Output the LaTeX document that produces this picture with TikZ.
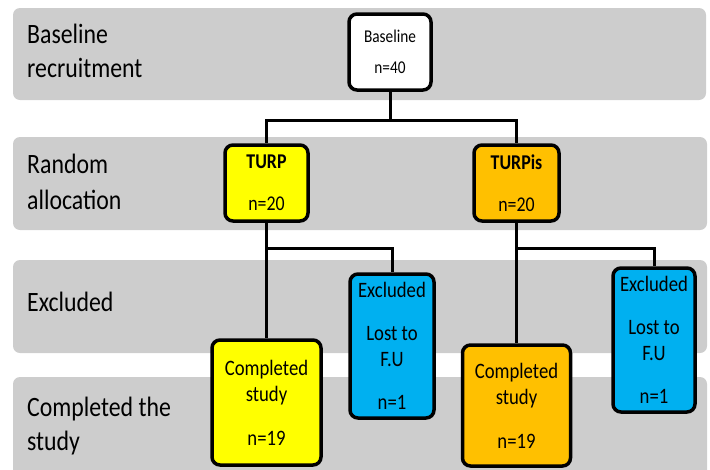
\documentclass[tikz,border=0pt]{standalone}
\usepackage{fontspec}
\setmainfont{Carlito}
\newfontfamily\labfont{Carlito}[FakeStretch=0.85]
\definecolor{bandgray}{RGB}{205,205,205}
\definecolor{yel}{RGB}{255,255,0}
\definecolor{org}{RGB}{255,192,0}
\definecolor{blu}{RGB}{0,176,240}
\begin{document}
\begin{tikzpicture}[x=1pt,y=-1pt,
  bandbox/.style={fill=bandgray, rounded corners=7pt},
  lab/.style={anchor=base west, inner sep=0pt, font=\labfont\fontsize{28}{34}\selectfont},
  box/.style={draw=black, line width=3.5pt, rounded corners=8pt, inner sep=0pt, align=center},
  smalltxt/.style={font=\labfont\fontsize{22}{26}\selectfont},
  conn/.style={line width=3pt},
]
\useasboundingbox (0,0) rectangle (710,469);
% bands
\fill[bandbox] (13,8) rectangle (706,100);
\fill[bandbox] (13,137) rectangle (707,230);
\fill[bandbox] (13,260) rectangle (707,353);
\fill[bandbox] (13,377) rectangle (707,485);
% left labels
\node[lab] (l1a) at (27,43) {Baseline};
\node[lab] (l1b) at (27,77) {recruitment};
\node[lab] (l2a) at (27,173) {Random};
\node[lab] (l2b) at (27,209) {allocation};
\node[lab] (l3) at (27,311) {Excluded};
\node[lab] (l4a) at (27,416) {Completed the};
\node[lab] (l4b) at (27,450) {study};
% boxes
\node[box, fill=white, minimum width=82pt, minimum height=76pt, font=\labfont\fontsize{18}{21}\selectfont] (base) at (390,52) {Baseline\\[10pt]n=40};
\node[box, fill=yel, minimum width=83pt, minimum height=76pt, font=\labfont\fontsize{21}{24}\selectfont] (turp) at (266.5,183) {\textbf{TURP}\\[18pt]n=20};
\node[box, fill=org, minimum width=85pt, minimum height=76pt, font=\labfont\fontsize{21}{24}\selectfont] (turpis) at (516.5,183) {\textbf{TURPis}\\[18pt]n=20};
\node[box, smalltxt, fill=blu, minimum width=84pt, minimum height=144pt] (exl) at (392,346) {Excluded\\[17pt]Lost to\\F.U\\[17pt]n=1};
\node[box, smalltxt, fill=blu, minimum width=82pt, minimum height=144pt] (exr) at (654,340) {Excluded\\[17pt]Lost to\\F.U\\[17pt]n=1};
\node[box, smalltxt, fill=yel, minimum width=109pt, minimum height=125pt] (compl) at (266.5,402.5) {Completed\\study\\[18pt]n=19};
\node[box, smalltxt, fill=org, minimum width=108pt, minimum height=121pt] (compr) at (516.5,405.5) {Completed\\study\\[18pt]n=19};
% connectors
\coordinate (j1) at (390,120);
\coordinate (j2) at (266.5,248);
\coordinate (j3) at (516.5,248);
\draw[conn] (base.south) -- (j1);
\draw[conn] (j1) -| (turp.north);
\draw[conn] (j1) -| (turpis.north);
\draw[conn] (turp.south) -- (compl.north);
\draw[conn] (j2) -| (exl.north);
\draw[conn] (turpis.south) -- (compr.north);
\draw[conn] (j3) -| (exr.north);
\end{tikzpicture}
\end{document}
